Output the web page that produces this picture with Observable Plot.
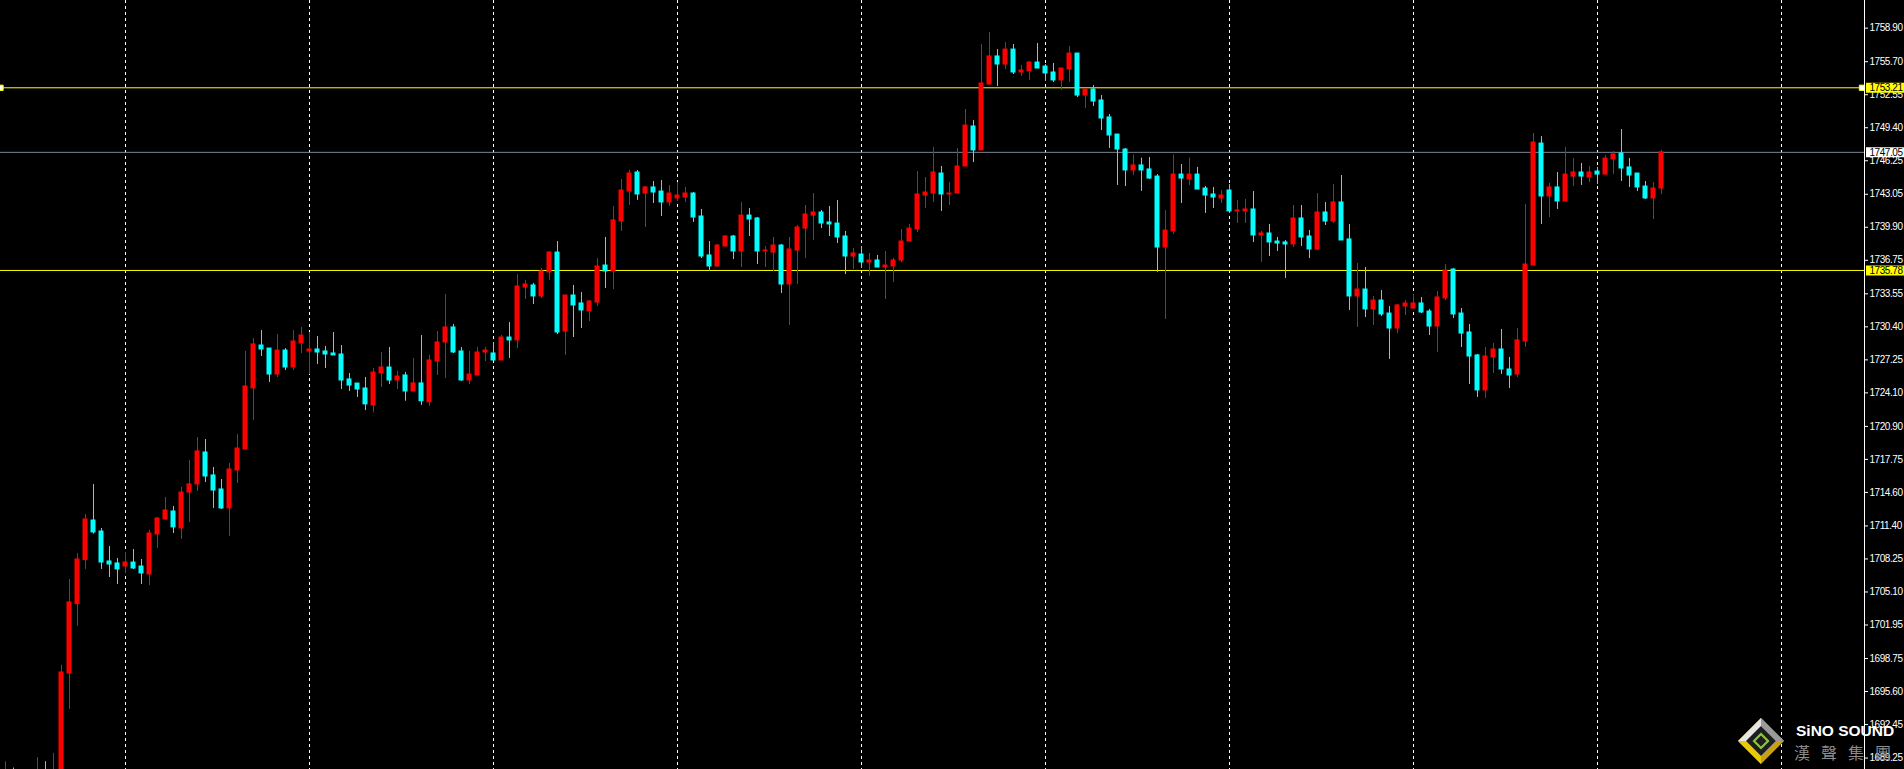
<!DOCTYPE html>
<html>
<head>
<meta charset="utf-8">
<script src="https://cdn.jsdelivr.net/npm/d3@7"></script>
<script src="https://cdn.jsdelivr.net/npm/@observablehq/plot@0.6"></script>
<style>
  html, body { margin: 0; padding: 0; background: #000; }
  #wrap { position: relative; width: 1904px; height: 769px; overflow: hidden; background: #000; }
  #chart svg text { letter-spacing: -0.45px; }
  #logo { position: absolute; left: 1737px; top: 716px; width: 167px; height: 53px; pointer-events: none; }
  #logo svg { position: absolute; left: 0; top: 1px; }
  #logo .en { position: absolute; left: 59px; top: 6px; font: bold 15.5px "Liberation Sans", Arial, sans-serif; color: #fff; white-space: nowrap; }
  #logo .zh { position: absolute; left: 57px; top: 24px; font: 16px "Noto Sans CJK TC", "Noto Sans CJK SC", sans-serif; color: #8c8c8c; letter-spacing: 11px; white-space: nowrap; }
</style>
</head>
<body>
<div id="wrap">
  <div id="chart"></div>
  <div id="logo">
    <svg width="48" height="48" viewBox="0 0 48 48">
      <polygon points="24,1 47,24 24,47 1,24" fill="#c9a20a"/>
      <polygon points="24,1 47,24 24,24" fill="#9a9a9a"/>
      <polygon points="24,1 1,24 24,24" fill="#e6e6e6"/>
      <polygon points="24,47 1,24 24,24" fill="#e8c90c"/>
      <polygon points="24,9 39,24 24,39 9,24" fill="#1e1e1e" stroke="#777" stroke-width="1"/>
      <polygon points="24,17 31,24 24,31 17,24" fill="none" stroke="#8cc63f" stroke-width="2.2"/>
    </svg>
    <div class="en">SiNO SOUND</div>
    <div class="zh">漢聲集團</div>
  </div>
</div>
<script>
// ---- data ----
const open = [
  1686.0, 1687.5, 1686.8, 1687.3, 1686.6, 1688.0, 1687.0, 1687.0, 1697.32, 1703.94,
  1708.14, 1711.92, 1710.87, 1708.01, 1707.82, 1707.53, 1707.91, 1707.53, 1706.77, 1710.59,
  1712.02, 1712.78, 1711.16, 1714.59, 1715.36, 1718.41, 1716.22, 1714.88, 1713.07, 1716.69,
  1718.70, 1724.52, 1728.62, 1728.33, 1725.85, 1728.14, 1726.52, 1728.81, 1728.05, 1728.24,
  1728.05, 1727.86, 1727.76, 1725.38, 1724.99, 1724.52, 1722.90, 1725.95, 1726.52, 1725.28,
  1725.76, 1724.23, 1725.00, 1723.20, 1727.09, 1728.91, 1730.34, 1728.05, 1725.28, 1725.76,
  1727.95, 1727.86, 1727.19, 1729.38, 1729.10, 1734.15, 1734.35, 1733.30, 1735.59, 1737.49,
  1729.95, 1733.39, 1732.63, 1731.87, 1732.72, 1736.25, 1735.68, 1740.45, 1743.31, 1745.13,
  1743.12, 1743.70, 1743.31, 1742.27, 1742.65, 1742.74, 1743.12, 1740.93, 1737.21, 1736.16,
  1738.07, 1739.02, 1737.59, 1741.02, 1740.74, 1737.62, 1737.49, 1738.16, 1734.44, 1737.68,
  1739.78, 1741.02, 1741.31, 1740.36, 1740.26, 1739.02, 1737.11, 1737.30, 1736.54, 1736.73,
  1736.06, 1736.16, 1736.73, 1738.54, 1739.69, 1742.93, 1743.12, 1745.03, 1743.03, 1743.12,
  1745.70, 1749.52, 1747.23, 1753.53, 1756.20, 1755.43, 1756.86, 1754.67, 1754.77, 1755.62,
  1755.24, 1754.67, 1753.91, 1754.96, 1756.48, 1752.47, 1753.05, 1752.00, 1750.38, 1748.75,
  1747.32, 1745.32, 1745.80, 1745.42, 1744.74, 1737.97, 1739.50, 1744.93, 1744.46, 1744.93,
  1743.60, 1743.03, 1742.65, 1743.41, 1741.41, 1741.41, 1741.60, 1739.12, 1739.31, 1738.54,
  1738.45, 1738.26, 1740.74, 1739.02, 1737.78, 1741.31, 1740.45, 1742.27, 1738.74, 1733.30,
  1733.96, 1732.06, 1732.91, 1731.67, 1730.24, 1732.34, 1732.15, 1732.63, 1731.86, 1730.43,
  1733.11, 1735.87, 1731.67, 1729.86, 1727.67, 1724.33, 1727.48, 1728.24, 1726.33, 1725.85,
  1729.00, 1736.25, 1747.89, 1742.84, 1743.70, 1742.36, 1744.74, 1745.13, 1744.65, 1745.22,
  1744.93, 1746.37, 1746.94, 1745.61, 1745.03, 1743.79, 1742.65, 1743.60
];
const high = [
  1688.9, 1688.3, 1687.9, 1687.9, 1689.3, 1688.9, 1689.7, 1698.09, 1706.29, 1708.77,
  1712.49, 1715.36, 1711.16, 1709.44, 1708.30, 1708.87, 1709.15, 1708.20, 1710.97, 1712.21,
  1714.12, 1713.26, 1715.07, 1717.65, 1719.84, 1719.65, 1716.98, 1715.83, 1717.36, 1720.13,
  1728.05, 1729.29, 1730.05, 1728.33, 1729.67, 1728.33, 1730.05, 1730.34, 1729.86, 1729.48,
  1728.53, 1729.86, 1728.62, 1725.95, 1724.99, 1725.57, 1726.43, 1727.95, 1728.43, 1726.14,
  1726.04, 1727.38, 1729.57, 1727.67, 1729.95, 1733.49, 1730.62, 1728.43, 1728.05, 1728.43,
  1728.43, 1728.91, 1729.57, 1730.81, 1735.40, 1734.82, 1734.54, 1735.97, 1737.59, 1738.54,
  1733.39, 1734.35, 1733.68, 1732.91, 1736.92, 1738.93, 1741.88, 1744.46, 1745.32, 1745.32,
  1743.79, 1744.27, 1744.36, 1743.89, 1744.17, 1743.70, 1743.22, 1741.60, 1738.54, 1738.26,
  1739.12, 1739.12, 1742.27, 1741.69, 1740.83, 1738.07, 1738.93, 1738.26, 1738.93, 1740.07,
  1741.98, 1743.12, 1741.50, 1741.88, 1742.46, 1739.50, 1737.88, 1738.07, 1737.40, 1737.21,
  1737.59, 1736.92, 1739.69, 1740.17, 1745.22, 1744.65, 1747.51, 1745.70, 1744.17, 1747.42,
  1751.14, 1750.09, 1757.34, 1758.49, 1756.86, 1757.53, 1757.34, 1755.34, 1755.72, 1757.44,
  1755.43, 1755.53, 1755.05, 1757.15, 1756.48, 1753.14, 1753.43, 1752.47, 1750.66, 1748.75,
  1747.42, 1746.80, 1746.50, 1746.56, 1744.93, 1741.50, 1746.80, 1745.89, 1746.50, 1745.61,
  1743.79, 1743.70, 1743.41, 1743.98, 1742.46, 1742.55, 1743.31, 1739.50, 1740.17, 1738.93,
  1738.64, 1741.98, 1741.98, 1739.59, 1743.12, 1742.27, 1743.98, 1744.84, 1740.17, 1736.44,
  1736.06, 1733.30, 1733.87, 1732.34, 1732.53, 1732.91, 1733.49, 1733.20, 1732.06, 1733.77,
  1736.35, 1735.97, 1732.15, 1730.62, 1727.76, 1728.43, 1728.81, 1730.15, 1727.48, 1730.24,
  1742.08, 1748.85, 1748.56, 1744.08, 1745.13, 1747.51, 1746.46, 1745.99, 1745.70, 1745.61,
  1746.75, 1747.13, 1749.23, 1746.46, 1745.03, 1744.27, 1744.17, 1747.23
];
const low = [
  1685.0, 1686.0, 1686.2, 1686.0, 1686.2, 1686.5, 1686.6, 1686.5, 1693.89, 1701.83,
  1707.25, 1710.62, 1707.25, 1706.48, 1705.81, 1706.87, 1707.25, 1705.81, 1705.72, 1709.25,
  1711.92, 1710.68, 1710.11, 1711.73, 1714.69, 1715.55, 1713.07, 1712.97, 1710.40, 1715.45,
  1718.70, 1721.46, 1727.57, 1725.09, 1725.57, 1726.23, 1726.23, 1727.86, 1725.85, 1726.81,
  1726.43, 1727.67, 1724.42, 1724.23, 1723.66, 1722.40, 1722.20, 1724.61, 1724.90, 1724.42,
  1723.30, 1724.23, 1722.90, 1722.80, 1725.76, 1725.47, 1727.86, 1725.19, 1724.90, 1725.76,
  1727.09, 1727.19, 1727.19, 1727.38, 1728.33, 1733.01, 1732.53, 1733.11, 1734.82, 1729.67,
  1727.67, 1729.38, 1730.24, 1730.91, 1732.34, 1734.06, 1733.96, 1739.50, 1741.98, 1742.46,
  1739.88, 1742.17, 1740.93, 1741.88, 1742.36, 1742.27, 1740.36, 1736.92, 1735.68, 1736.06,
  1737.97, 1736.82, 1736.06, 1739.02, 1736.35, 1736.06, 1735.68, 1733.58, 1730.53, 1734.44,
  1736.92, 1738.64, 1739.78, 1739.02, 1738.35, 1735.40, 1735.87, 1735.97, 1735.21, 1736.06,
  1733.01, 1734.63, 1736.54, 1738.54, 1739.40, 1741.69, 1742.27, 1741.41, 1741.98, 1743.12,
  1745.70, 1746.08, 1747.23, 1753.43, 1753.33, 1754.96, 1754.48, 1754.29, 1753.91, 1755.05,
  1753.81, 1753.72, 1752.95, 1753.72, 1752.28, 1751.23, 1751.43, 1749.13, 1747.42, 1743.89,
  1743.79, 1744.84, 1743.32, 1744.46, 1735.59, 1731.10, 1739.21, 1742.17, 1743.89, 1743.50,
  1741.22, 1741.69, 1742.17, 1741.22, 1740.26, 1740.26, 1738.45, 1736.54, 1737.11, 1737.59,
  1735.01, 1737.97, 1738.07, 1736.92, 1737.68, 1740.07, 1740.26, 1738.64, 1731.96, 1730.34,
  1731.29, 1730.53, 1731.39, 1727.29, 1729.76, 1731.48, 1732.06, 1731.67, 1729.57, 1727.95,
  1732.91, 1731.20, 1728.43, 1724.90, 1723.66, 1723.56, 1725.95, 1725.85, 1724.52, 1725.57,
  1728.43, 1736.25, 1740.17, 1740.83, 1741.60, 1742.36, 1743.79, 1743.89, 1744.17, 1743.98,
  1744.93, 1744.93, 1744.27, 1743.70, 1743.31, 1742.55, 1740.64, 1743.03
];
const close = [
  1687.5, 1686.8, 1687.3, 1686.6, 1688.0, 1687.0, 1688.0, 1697.42, 1704.10, 1708.20,
  1712.02, 1710.78, 1707.91, 1707.72, 1707.25, 1707.91, 1707.34, 1706.87, 1710.68, 1712.11,
  1712.88, 1711.26, 1714.59, 1715.36, 1718.51, 1716.12, 1714.78, 1713.07, 1716.79, 1718.79,
  1724.71, 1728.72, 1728.24, 1725.85, 1728.14, 1726.52, 1729.00, 1729.57, 1728.24, 1727.95,
  1727.76, 1727.67, 1725.28, 1724.80, 1724.42, 1723.00, 1726.04, 1726.52, 1725.28, 1725.66,
  1724.23, 1725.00, 1723.30, 1727.19, 1728.91, 1730.34, 1727.95, 1725.28, 1725.85, 1727.95,
  1728.14, 1727.19, 1729.38, 1729.10, 1734.25, 1734.44, 1733.30, 1735.68, 1737.49, 1729.86,
  1733.39, 1732.44, 1731.96, 1732.82, 1736.16, 1735.68, 1740.55, 1743.41, 1745.03, 1743.03,
  1743.70, 1743.22, 1742.27, 1743.12, 1742.93, 1743.12, 1740.83, 1737.11, 1736.16, 1738.16,
  1739.02, 1737.59, 1741.02, 1740.64, 1737.59, 1737.68, 1738.16, 1734.44, 1737.78, 1739.88,
  1741.12, 1741.31, 1740.26, 1740.17, 1738.93, 1737.11, 1737.40, 1736.54, 1736.73, 1736.06,
  1736.25, 1736.73, 1738.54, 1739.78, 1743.03, 1743.22, 1745.13, 1743.03, 1743.12, 1745.70,
  1749.61, 1747.23, 1753.62, 1756.20, 1755.43, 1756.86, 1754.67, 1754.86, 1755.62, 1755.05,
  1754.58, 1753.91, 1755.05, 1756.48, 1752.47, 1753.05, 1751.90, 1750.28, 1748.66, 1747.32,
  1745.32, 1745.80, 1745.32, 1744.55, 1737.97, 1739.59, 1744.93, 1744.55, 1744.93, 1743.50,
  1742.93, 1742.74, 1742.93, 1741.41, 1741.50, 1741.60, 1739.12, 1739.31, 1738.45, 1738.35,
  1738.26, 1740.74, 1738.93, 1737.78, 1741.31, 1740.45, 1742.27, 1738.64, 1733.30, 1733.96,
  1732.06, 1732.91, 1731.58, 1730.24, 1732.44, 1732.63, 1732.63, 1731.77, 1730.43, 1733.20,
  1735.78, 1731.58, 1729.76, 1727.57, 1724.33, 1727.57, 1728.24, 1726.33, 1725.76, 1729.10,
  1736.35, 1747.99, 1742.84, 1743.70, 1742.36, 1744.93, 1745.13, 1744.74, 1745.13, 1744.93,
  1746.46, 1746.85, 1745.51, 1744.84, 1743.70, 1742.65, 1743.60, 1747.05
];
// vertical grid (bar indices), price-axis tick labels, horizontal level lines
const gridBars = [15, 38, 61, 84, 107, 130, 153, 176, 199, 222];
const yTicks = [1758.90, 1755.70, 1752.55, 1749.40, 1746.25, 1743.05, 1739.90, 1736.75, 1733.55,
  1730.40, 1727.25, 1724.10, 1720.90, 1717.75, 1714.60, 1711.40, 1708.25, 1705.10, 1701.95,
  1698.75, 1695.60, 1692.45, 1689.25];
const levelPrices = [1753.21, 1747.05, 1735.78];
const anchorLevel = [1753.21];

// ---- layout ----
const W = 1904, H = 769, AXIS_W = 40;
const FRAME_W = W - AXIS_W;           // 1864 px plot area
const STEP = 8, FIRST = 5;            // px per bar, first bar centre
const xDomain = [-FIRST / STEP, (FRAME_W - FIRST) / STEP];
const yDomain = [1688.16, 1761.54];
const UP = "#ff0000", DOWN = "#00ffff";
const levelColor = p => (p === 1747.05 ? "#ffffff" : "#ffff00");
const levelLine = p => (p === 1747.05 ? "#7a8596" : "#ffff00");

const bars = open.map((o, i) => ({i, open: o, high: high[i], low: low[i], close: close[i]}));
const col = d => (d.close >= d.open ? UP : DOWN);
const halfBody = 2.5 / STEP;
const pxToX = px => px / STEP; // pixel offset → bar units

const font = '"Liberation Sans", Arial, sans-serif';

const chart = Plot.plot({
  width: W,
  height: H,
  marginLeft: 0,
  marginRight: AXIS_W,
  marginTop: 0,
  marginBottom: 0,
  style: {background: "#000", color: "#fff", fontFamily: font, fontSize: "10px"},
  x: {domain: xDomain, axis: null},
  y: {domain: yDomain, axis: null},
  color: {type: "identity"},
  marks: [
    Plot.ruleX(gridBars, {x: d => d, stroke: "#ffffff", strokeDasharray: "3,3", strokeWidth: 1}),
    Plot.ruleY(levelPrices, {y: d => d, stroke: d => levelLine(d), strokeWidth: 1}),
    Plot.ruleX(bars, {x: "i", y1: "low", y2: "high", stroke: col, strokeWidth: 1, clip: true}),
    Plot.rect(bars, {
      x1: d => d.i - halfBody, x2: d => d.i + halfBody,
      y1: "open", y2: "close", fill: col,
      insetTop: -0.5, insetBottom: -0.5, clip: true
    }),
    Plot.dot(anchorLevel, {x: xDomain[0], y: d => d, symbol: "square", r: 3, fill: "#ffffff", stroke: "#ffff00", strokeWidth: 1}),
    Plot.dot(anchorLevel, {x: xDomain[1] - pxToX(2.5), y: d => d, symbol: "square", r: 3, fill: "#ffffff", stroke: "#ffff00", strokeWidth: 1}),
    Plot.ruleX([xDomain[1]], {x: d => d, stroke: "#ffffff", strokeWidth: 1}),
    Plot.axisY(yTicks, {
      anchor: "right", tickSize: 3, tickPadding: 2,
      tickFormat: d => d.toFixed(2), color: "#ffffff", fontSize: 10
    }),
    // highlighted price boxes on the axis
    Plot.ruleY(levelPrices, {
      y: d => d, x1: xDomain[1] + pxToX(2), x2: xDomain[1] + pxToX(AXIS_W),
      stroke: d => levelColor(d), strokeWidth: 10
    }),
    Plot.text(levelPrices, {
      x: xDomain[1], y: d => d, text: d => d.toFixed(2), dx: 5,
      textAnchor: "start", fill: "#000000", fontSize: 10
    })
  ]
});

document.getElementById("chart").append(chart);
</script>
</body>
</html>
